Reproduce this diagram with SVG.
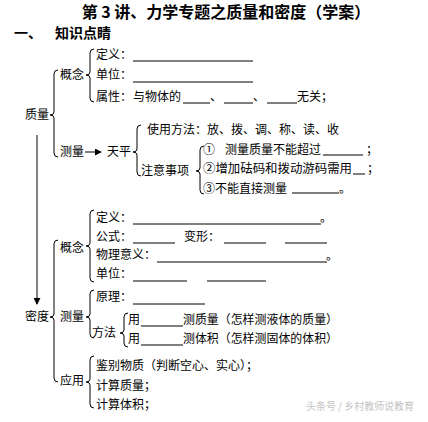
<svg xmlns="http://www.w3.org/2000/svg" width="428" height="422" viewBox="0 0 428 422">
<style>
text{font-family:"Noto Sans CJK SC","Noto Sans",sans-serif;font-size:12px;fill:#000}
.title{font-size:16px;font-weight:bold}
.h1{font-size:14px;font-weight:bold}
.wm{font-size:10.5px;fill:#c4c4c4}
.blank{stroke:#000;stroke-width:1}
.br{fill:none;stroke:#000;stroke-width:1}
.ar{stroke:#000;stroke-width:1;fill:none}
</style>
<defs>
<marker id="ah" viewBox="0 0 8 8" refX="7" refY="4" markerWidth="7" markerHeight="7" orient="auto" markerUnits="userSpaceOnUse">
<path d="M0,0 L8,4 L0,8 Z" fill="#000"/>
</marker>
</defs>
<rect width="428" height="422" fill="#fff"/>
<g id="title"><text class="title" x="226" y="18" text-anchor="middle">第 3 讲、力学专题之质量和密度（学案）</text></g>
<g id="section"><text class="h1" x="14" y="38">一、</text><text class="h1" x="55" y="38">知识点睛</text></g>

<g id="connectors">
<path class="br" d="M94,49 Q90,49 90,53 L90,72 Q90,75 86,75 Q90,75 90,78 L90,98 Q90,102 94,102"/>
<path class="br" d="M58,70 Q54,70 54,74 L54,112 Q54,115 50,115 Q54,115 54,118 L54,153 Q54,157 58,157"/>
<path class="br" d="M141,125 Q137,125 137,129 L137,149 Q137,152 133,152 Q137,152 137,155 L137,172 Q137,176 141,176"/>
<path class="br" d="M204,146 Q200,146 200,150 L200,168 Q200,171 196,171 Q200,171 200,174 L200,190 Q200,194 204,194"/>
<line class="ar" x1="85" y1="152" x2="101" y2="152" marker-end="url(#ah)"/>
<line class="ar" x1="37" y1="135" x2="37" y2="304" marker-end="url(#ah)"/>
<path class="br" d="M94,210 Q90,210 90,214 L90,243 Q90,246 86,246 Q90,246 90,249 L90,278 Q90,282 94,282"/>
<path class="br" d="M94,290 Q90,290 90,294 L90,314 Q90,317 86,317 Q90,317 90,320 L90,334 Q90,338 94,338"/>
<path class="br" d="M128,313 Q124,313 124,317 L124,330 Q124,333 120,333 Q124,333 124,336 L124,343 Q124,347 128,347"/>
<path class="br" d="M94,356 Q90,356 90,360 L90,379 Q90,382 86,382 Q90,382 90,385 L90,404 Q90,408 94,408"/>
<path class="br" d="M58,240 Q54,240 54,244 L54,314 Q54,317 50,317 Q54,317 54,320 L54,378 Q54,382 58,382"/>
</g>

<g id="mass"><text x="25" y="119">质量</text></g>
<g id="mass-concept"><text x="60" y="79">概念</text></g>
<g id="mass-def"><text x="96" y="59">定义：</text><line class="blank" x1="133" y1="61" x2="253" y2="61"/></g>
<g id="mass-unit"><text x="96" y="79">单位：</text><line class="blank" x1="133" y1="82" x2="253" y2="82"/></g>
<g id="mass-prop">
<text x="96" y="101">属性：</text><text x="133" y="101">与物体的</text>
<line class="blank" x1="183" y1="103" x2="210" y2="103"/><text x="210" y="101">、</text>
<line class="blank" x1="224" y1="103" x2="253" y2="103"/><text x="253" y="101">、</text>
<line class="blank" x1="267" y1="103" x2="297" y2="103"/><text x="297" y="101">无关；</text>
</g>
<g id="mass-measure"><text x="60" y="156">测量</text></g>
<g id="balance"><text x="107" y="156">天平</text></g>
<g id="usage"><text x="147" y="134">使用方法：放、拨、调、称、读、收</text></g>
<g id="notes"><text x="141" y="175">注意事项</text></g>
<g id="note1"><text x="203" y="154">①</text><text x="225" y="154">测量质量不能超过</text><line class="blank" x1="323" y1="155" x2="363" y2="155"/><text x="366" y="154">；</text></g>
<g id="note2"><text x="203" y="173" textLength="149" lengthAdjust="spacingAndGlyphs">②增加砝码和拨动游码需用</text><line class="blank" x1="353" y1="174" x2="365" y2="174"/><text x="367" y="173">；</text></g>
<g id="note3"><text x="203" y="193">③不能直接测量</text><line class="blank" x1="292" y1="193" x2="339" y2="193"/><text x="339" y="193">。</text></g>

<g id="density"><text x="25" y="321">密度</text></g>
<g id="density-concept"><text x="60" y="252">概念</text></g>
<g id="d-def"><text x="96" y="222">定义：</text><line class="blank" x1="133" y1="224" x2="321" y2="224"/><text x="320" y="222">。</text></g>
<g id="d-formula"><text x="96" y="241">公式：</text><line class="blank" x1="133" y1="243" x2="175" y2="243"/><text x="184" y="241">变形：</text><line class="blank" x1="224" y1="243" x2="266" y2="243"/><line class="blank" x1="285" y1="243" x2="327" y2="243"/></g>
<g id="d-meaning"><text x="96" y="259">物理意义：</text><line class="blank" x1="157" y1="262" x2="327" y2="262"/><text x="326" y="260">。</text></g>
<g id="d-unit"><text x="96" y="278">单位：</text><line class="blank" x1="133" y1="281" x2="187" y2="281"/><line class="blank" x1="207" y1="281" x2="266" y2="281"/></g>
<g id="density-measure"><text x="60" y="321">测量</text></g>
<g id="d-principle"><text x="96" y="301">原理：</text><line class="blank" x1="133" y1="304" x2="205" y2="304"/></g>
<g id="d-method"><text x="92" y="337">方法</text></g>
<g id="m-mass"><text x="128" y="324">用</text><line class="blank" x1="141" y1="326" x2="183" y2="326"/><text x="183" y="324" textLength="155" lengthAdjust="spacingAndGlyphs">测质量（怎样测液体的质量）</text></g>
<g id="m-vol"><text x="128" y="343">用</text><line class="blank" x1="141" y1="345" x2="183" y2="345"/><text x="183" y="343" textLength="155" lengthAdjust="spacingAndGlyphs">测体积（怎样测固体的体积）</text></g>
<g id="density-app"><text x="60" y="385">应用</text></g>
<g id="a1"><text x="96" y="370" textLength="162" lengthAdjust="spacingAndGlyphs">鉴别物质（判断空心、实心）；</text></g>
<g id="a2"><text x="96" y="390">计算质量；</text></g>
<g id="a3"><text x="96" y="409">计算体积；</text></g>

<text class="wm" x="306" y="410" textLength="108" lengthAdjust="spacingAndGlyphs">头条号 / 乡村教师说教育</text>
</svg>
